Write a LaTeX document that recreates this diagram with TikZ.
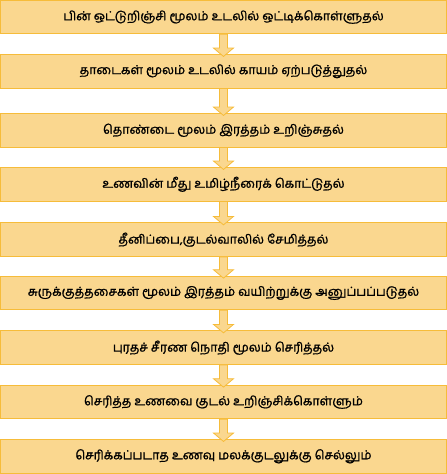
\documentclass[tikz,border=0pt]{standalone}
\usepackage{fontspec}
\newfontfamily\tamil[Script=Tamil, FakeBold=1.2]{Hind Madurai}
\usetikzlibrary{calc}
\definecolor{boxfill}{RGB}{250,215,143}
\definecolor{boxline}{RGB}{246,188,58}
\tikzset{
  stepbox/.style={draw=boxline, fill=boxfill, line width=1pt, minimum width=446pt, minimum height=33.5pt, inner sep=0pt, font=\tamil\fontsize{12.4}{14}\selectfont},
  flow/.style={draw=boxline, fill=boxfill, line width=0.8pt, line join=miter}
}
\newcommand\flowarrow[2]{%
  \path[flow] ($(#1.south)+(-4pt,0)$) -- ($(#2.north)+(-4pt,6pt)$) -- ($(#2.north)+(-10pt,6pt)$) -- ($(#2.north)+(0,-2.4pt)$) -- ($(#2.north)+(10pt,6pt)$) -- ($(#2.north)+(4pt,6pt)$) -- ($(#1.south)+(4pt,0)$) -- cycle;}
\begin{document}
\begin{tikzpicture}[x=1pt,y=1pt]
\useasboundingbox (0,0) rectangle (447,474);
\node[stepbox] (b1) at (223.5,457) {பின் ஒட்டுறிஞ்சி மூலம் உடலில் ஒட்டிக்கொள்ளுதல்};
\node[stepbox] (b2) at (223.5,402.7) {தாடைகள் மூலம் உடலில் காயம் ஏற்படுத்துதல்};
\node[stepbox] (b3) at (223.5,343.7) {தொண்டை மூலம் இரத்தம் உறிஞ்சுதல்};
\node[stepbox] (b4) at (223.5,289.7) {உணவின் மீது உமிழ்நீரைக் கொட்டுதல்};
\node[stepbox] (b5) at (223.5,234.3) {தீனிப்பை,குடல்வாலில் சேமித்தல்};
\node[stepbox] (b6) at (223.5,181) {சுருக்குத்தசைகள் மூலம் இரத்தம் வயிற்றுக்கு அனுப்பப்படுதல்};
\node[stepbox] (b7) at (223.5,126.3) {புரதச் சீரண நொதி மூலம் செரித்தல்};
\node[stepbox] (b8) at (223.5,72) {செரித்த உணவை குடல் உறிஞ்சிக்கொள்ளும்};
\node[stepbox] (b9) at (223.5,17.7) {செரிக்கப்படாத உணவு மலக்குடலுக்கு செல்லும்};
\flowarrow{b1}{b2}
\flowarrow{b2}{b3}
\flowarrow{b3}{b4}
\flowarrow{b4}{b5}
\flowarrow{b5}{b6}
\flowarrow{b6}{b7}
\flowarrow{b7}{b8}
\flowarrow{b8}{b9}
\end{tikzpicture}
\end{document}
